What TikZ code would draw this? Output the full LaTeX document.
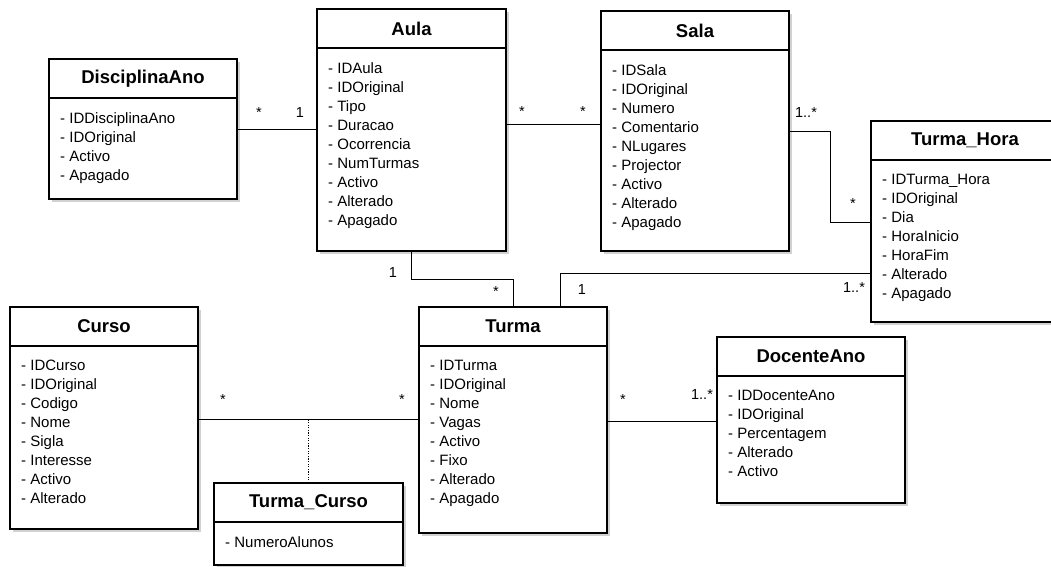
\documentclass[tikz,border=0pt]{standalone}
\usepackage{fontspec}
\setmainfont{Liberation Sans}
\usepackage{tikz}
\usetikzlibrary{calc,shadows}

\begin{document}
\begin{tikzpicture}[
  x=1pt, y=-1pt,
  cls/.style   = {draw, line width=1.2pt, fill=white, anchor=north west,
                  inner sep=0pt, outer sep=0pt,
                  drop shadow={shadow xshift=2.5pt, shadow yshift=-2.5pt,
                               opacity=0.3, fill=black!60}},
  hdr/.style   = {draw, line width=1.2pt, anchor=north, minimum height=39pt,
                  inner sep=0pt, outer sep=0pt,
                  font=\fontsize{18.5}{20}\selectfont\bfseries},
  attrs/.style = {anchor=north west, align=left, inner xsep=11pt, inner ysep=14pt,
                  font=\fontsize{15}{19}\selectfont},
  mult/.style  = {anchor=base, inner sep=0pt, font=\fontsize{14.5}{16}\selectfont},
  assoc/.style = {line width=1pt},
]
\useasboundingbox (0,0) rectangle (1051,566);

%% --- classes, top row ---
\node[cls, minimum width=188pt, minimum height=140pt] (disc) at (49,59) {};
\node[hdr, minimum width=188pt] (discT) at (disc.north) {DisciplinaAno};
\node[attrs] (discA) at (discT.south west)
  {- IDDisciplinaAno\\- IDOriginal\\- Activo\\- Apagado};

\node[cls, minimum width=189pt, minimum height=242pt] (aula) at (317,9) {};
\node[hdr, minimum width=189pt] (aulaT) at (aula.north) {Aula};
\node[attrs] (aulaA) at (aulaT.south west)
  {- IDAula\\- IDOriginal\\- Tipo\\- Duracao\\- Ocorrencia\\- NumTurmas\\- Activo\\- Alterado\\- Apagado};

\node[cls, minimum width=188pt, minimum height=240pt] (sala) at (601,11) {};
\node[hdr, minimum width=188pt] (salaT) at (sala.north) {Sala};
\node[attrs] (salaA) at (salaT.south west)
  {- IDSala\\- IDOriginal\\- Numero\\- Comentario\\- NLugares\\- Projector\\- Activo\\- Alterado\\- Apagado};

\node[cls, minimum width=188pt, minimum height=201pt] (thora) at (871,121) {};
\node[hdr, minimum width=188pt] (thoraT) at (thora.north) {Turma\_Hora};
\node[attrs] (thoraA) at (thoraT.south west)
  {- IDTurma\_Hora\\- IDOriginal\\- Dia\\- HoraInicio\\- HoraFim\\- Alterado\\- Apagado};

%% --- classes, bottom row ---
\node[cls, minimum width=188pt, minimum height=222pt] (curso) at (10,307) {};
\node[hdr, minimum width=188pt] (cursoT) at (curso.north) {Curso};
\node[attrs] (cursoA) at (cursoT.south west)
  {- IDCurso\\- IDOriginal\\- Codigo\\- Nome\\- Sigla\\- Interesse\\- Activo\\- Alterado};

\node[cls, minimum width=189pt, minimum height=82pt] (tcurso) at (214,483) {};
\node[hdr, minimum width=189pt] (tcursoT) at (tcurso.north) {Turma\_Curso};
\node[attrs] (tcursoA) at (tcursoT.south west) {- NumeroAlunos};

\node[cls, minimum width=188pt, minimum height=226pt] (turma) at (419,307) {};
\node[hdr, minimum width=188pt] (turmaT) at (turma.north) {Turma};
\node[attrs] (turmaA) at (turmaT.south west)
  {- IDTurma\\- IDOriginal\\- Nome\\- Vagas\\- Activo\\- Fixo\\- Alterado\\- Apagado};

\node[cls, minimum width=188pt, minimum height=166pt] (doc) at (717,337) {};
\node[hdr, minimum width=188pt] (docT) at (doc.north) {DocenteAno};
\node[attrs] (docA) at (docT.south west)
  {- IDDocenteAno\\- IDOriginal\\- Percentagem\\- Alterado\\- Activo};

%% --- associations ---
\draw[assoc] (disc.east) -- (disc.east -| aula.west);
\draw[assoc] (aula.east |- 0,124) -- (sala.west |- 0,124);
\draw[assoc] (sala.east |- 0,131) -- ++(41,0) |- (thora.west |- 0,222);
\draw[assoc] (aula.south) |- ($(turma.north)+(0,-28)$) -- (turma.north);
\draw[assoc] ($(turma.north)+(47,0)$) |- (thora.west |- 0,273);
\draw[assoc] (curso.east |- 0,419) -- (turma.west |- 0,419);
\draw[assoc, line width=1.3pt, dash pattern=on 1.3pt off 1.3pt]
  (tcurso.north) -- (tcurso.north |- 0,419);
\draw[assoc] (turma.east |- 0,421) -- (doc.west |- 0,421);

%% --- multiplicities ---
\node[mult] (m1a) at (259,117) {*};
\node[mult] (m1b) at (300,117) {1};
\node[mult] (m2a) at (522,116) {*};
\node[mult] (m2b) at (583,116) {*};
\node[mult] (m3a) at (806,117) {1..*};
\node[mult] (m3b) at (853,208) {*};
\node[mult] (m4a) at (393,277) {1};
\node[mult] (m4b) at (496,296) {*};
\node[mult] (m5a) at (582,294) {1};
\node[mult] (m5b) at (854,292) {1..*};
\node[mult] (m6a) at (223,404) {*};
\node[mult] (m6b) at (402,404) {*};
\node[mult] (m7a) at (623,404) {*};
\node[mult] (m7b) at (702,399) {1..*};
\end{tikzpicture}
\end{document}
